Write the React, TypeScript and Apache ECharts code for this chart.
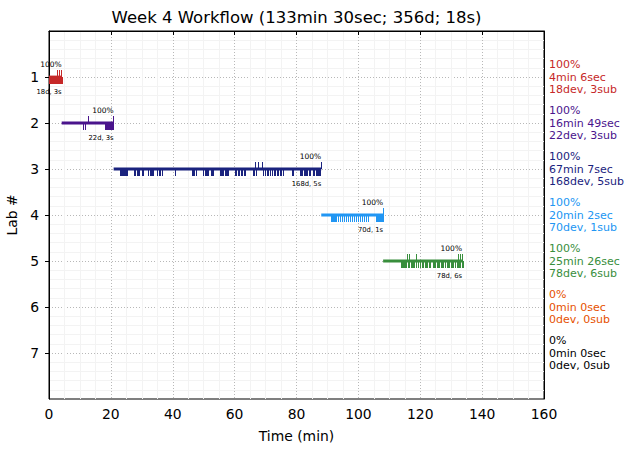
import React, { useEffect, useRef } from "react";
import * as echarts from "echarts";

const labNumbers = [1, 2, 3, 4, 5, 6, 7];
const labColors = ["#c62828", "#4a148c", "#1a237e", "#2196f3", "#388e3c", "#e65100", "#000000"];
const labStart = [0, 4.1, 20.9, 88.0, 108.0, null, null];
const labEnd = [4.1, 20.9, 88.0, 108.0, 133.5, null, null];
const labPercent = ["100%", "100%", "100%", "100%", "100%", "0%", "0%"];
const labDuration = ["4min 6sec", "16min 49sec", "67min 7sec", "20min 2sec", "25min 26sec", "0min 0sec", "0min 0sec"];
const labDevCount = [18, 22, 168, 70, 78, 0, 0];
const labSubCount = [3, 3, 5, 1, 6, 0, 0];

const lab1Devs = [0.1, 0.3, 0.6, 0.9, 1.1, 1.4, 1.6, 1.9, 2.1, 2.4, 2.6, 2.9, 3.1, 3.3, 3.5, 3.7, 3.9, 4.1];
const lab2Devs = [11.0, 11.5, 18.2, 18.4, 18.5, 18.7, 18.9, 19.0, 19.2, 19.3, 19.5, 19.6, 19.8, 19.9, 20.0, 20.1, 20.2, 20.3, 20.4, 20.5, 20.6, 20.7];
const lab3Devs = [
  23.0, 23.3, 23.6, 23.9, 24.2, 24.5, 24.8, 25.1,
  27.5, 27.9, 28.3, 28.7, 29.2,
  30.0, 30.5,
  32.1, 32.5, 32.9, 33.3, 33.7,
  35.0, 35.4, 35.9, 36.4,
  40.7,
  46.2, 46.6, 47.0, 47.5,
  49.9, 50.3, 50.7, 51.1, 51.5,
  52.3, 52.7, 53.1,
  55.3, 55.6, 56.0, 56.4, 56.8, 57.2, 57.5, 57.8,
  60.1, 60.6, 61.0, 61.5, 62.0, 62.4, 62.9, 63.3,
  65.8, 66.1, 66.4, 66.8,
  69.3, 69.8, 70.4,
  70.9, 71.4, 72.0, 72.6, 73.1, 73.6, 74.1, 74.6, 75.0, 75.5,
  78.4, 79.0,
  81.1, 81.5, 81.9, 82.3, 82.7, 83.1, 83.5, 84.0, 84.4,
  85.4, 85.8, 86.2, 86.6, 87.0, 87.3, 87.6,
];
const lab4Devs = [
  91.0, 91.3, 91.6, 91.9, 92.2, 92.5, 92.8,
  93.4, 94.0, 94.7, 95.3, 96.0, 96.6, 97.3, 97.9, 98.6, 99.2, 99.9, 100.5, 101.2, 101.8, 102.5, 103.1,
  105.7, 106.0, 106.3, 106.6, 106.9, 107.2, 107.5, 107.8, 108.0,
];
const lab5Devs = [
  113.8, 114.1, 114.5, 114.8, 115.2, 115.5, 115.9, 116.2, 116.5, 116.9, 117.2,
  117.7, 118.1, 118.5,
  119.4, 119.9,
  120.6, 121.0, 121.4, 121.8, 122.2, 122.7, 123.1,
  124.1, 124.5, 124.9, 125.3,
  125.8, 126.2, 126.6, 127.0, 127.5, 128.0,
  128.5, 128.9, 129.3, 129.8, 130.2, 130.7, 131.2,
  131.8, 132.2, 132.6, 133.0, 133.4, 133.9,
];
const labDevTimes = [lab1Devs, lab2Devs, lab3Devs, lab4Devs, lab5Devs, [], []];

const labSubTimes = [
  [2.5, 3.2, 3.9],
  [12.7, 20.6, 20.8],
  [66.6, 67.6, 68.7, 87.8, 88.0],
  [108.0],
  [115.8, 116.4, 118.6, 132.1, 132.8, 133.6],
  [],
  [],
];

const xTicks = [0, 20, 40, 60, 80, 100, 120, 140, 160];

const FONT = "DejaVu Sans";

export default function App() {
  const ref = useRef<HTMLDivElement>(null);

  useEffect(() => {
    if (!ref.current) return;
    const chart = echarts.init(ref.current, undefined, { renderer: "svg" });

    const segData: any[] = [];
    labNumbers.forEach((lab, i) => {
      if (labStart[i] !== null && labEnd[i] !== null) {
        segData.push([labStart[i], lab, labEnd[i], labDevCount[i], labSubCount[i], i]);
      }
    });
    const tickData: any[] = [];
    labNumbers.forEach((lab, i) => {
      labDevTimes[i].forEach((t) => tickData.push([t, lab, 1, i]));
      labSubTimes[i].forEach((t) => tickData.push([t, lab, -1, i]));
    });

    const rich: any = {};
    labColors.forEach((c, i) => {
      rich["c" + i] = { color: c, fontSize: 11, lineHeight: 12.5, fontFamily: FONT };
    });

    const splitMajor = { show: true, lineStyle: { color: "#b8b8b8", type: [1, 2] as any, width: 1 } };
    const splitMinor = { show: true, lineStyle: { color: "#f3f3f3", width: 1 } };

    chart.setOption({
      animation: false,
      backgroundColor: "#ffffff",
      textStyle: { fontFamily: FONT },
      grid: {
        left: 49,
        right: 90,
        top: 31,
        bottom: 54,
        show: true,
        borderColor: "#000",
        borderWidth: 1,
        backgroundColor: "transparent",
        outerBoundsMode: "none",
        containLabel: false,
      },
      graphic: [
        {
          type: "text",
          x: 296.5,
          y: 17,
          style: {
            text: "Week 4 Workflow (133min 30sec; 356d; 18s)",
            fontSize: 16.5,
            fontFamily: FONT,
            fill: "#000",
            align: "center",
            verticalAlign: "middle",
          },
        },
      ],
      xAxis: {
        type: "value",
        min: 0,
        max: 160,
        interval: 20,
        name: "Time (min)",
        nameLocation: "middle",
        nameGap: 30,
        nameTextStyle: { fontSize: 13.9, color: "#000", fontFamily: FONT },
        axisLine: { show: true, lineStyle: { color: "#000", width: 1 } },
        axisTick: { show: true, inside: false, length: 4, lineStyle: { color: "#000" } },
        axisLabel: { fontSize: 13.9, color: "#000", margin: 8, fontFamily: FONT, customValues: xTicks },
        splitLine: splitMajor,
        minorTick: { show: false, splitNumber: 4 },
        minorSplitLine: splitMinor,
      },
      yAxis: [
        {
          type: "value",
          inverse: true,
          min: 0,
          max: 8,
          interval: 1,
          name: "Lab #",
          nameLocation: "middle",
          nameGap: 27,
          nameRotate: 90,
          nameTextStyle: { fontSize: 13.9, color: "#000", fontFamily: FONT },
          axisLine: { show: true, lineStyle: { color: "#000", width: 1 } },
          axisTick: { show: true, length: 4, lineStyle: { color: "#000" }, customValues: labNumbers },
          axisLabel: {
            fontSize: 13.9,
            color: "#000",
            margin: 10,
            fontFamily: FONT,
            customValues: labNumbers,
            formatter: (v: number) => (v >= 1 && v <= 7 ? String(v) : ""),
          },
          splitLine: splitMajor,
          minorTick: { show: false, splitNumber: 5 },
          minorSplitLine: splitMinor,
        },
        {
          type: "value",
          position: "right",
          inverse: true,
          min: 0,
          max: 8,
          interval: 1,
          axisLine: { show: true, lineStyle: { color: "#000", width: 1 } },
          axisTick: { show: false },
          splitLine: { show: false },
          axisLabel: {
            margin: 5,
            align: "left",
            customValues: labNumbers,
            rich,
            formatter: (v: number) => {
              const i = Math.round(v) - 1;
              if (i < 0 || i > 6) return "";
              return (
                `{c${i}|${labPercent[i]}}\n` +
                `{c${i}|${labDuration[i]}}\n` +
                `{c${i}|${labDevCount[i]}dev, ${labSubCount[i]}sub}`
              );
            },
          },
        },
      ],
      series: [
        {
          type: "custom",
          xAxisIndex: 0,
          yAxisIndex: 0,
          data: tickData,
          encode: { x: 0, y: 1 },
          renderItem: (params: any, api: any) => {
            const t = api.value(0);
            const lab = api.value(1);
            const dir = api.value(2);
            const i = api.value(3);
            const p = api.coord([t, lab]);
            const x = Math.round(p[0]) + 0.5;
            return {
              type: "line",
              shape: { x1: x, y1: p[1], x2: x, y2: p[1] + dir * 7 },
              style: { stroke: labColors[i], lineWidth: 1 },
            };
          },
        },
        {
          type: "custom",
          xAxisIndex: 0,
          yAxisIndex: 0,
          data: segData,
          encode: { x: [0, 2], y: 1 },
          renderItem: (params: any, api: any) => {
            const s = api.value(0);
            const lab = api.value(1);
            const e = api.value(2);
            const d = api.value(3);
            const sb = api.value(4);
            const i = api.value(5);
            const p1 = api.coord([s, lab]);
            const p2 = api.coord([e, lab]);
            return {
              type: "group",
              children: [
                {
                  type: "line",
                  shape: { x1: p1[0], y1: p1[1], x2: p2[0], y2: p2[1] },
                  style: { stroke: labColors[i], lineWidth: 2.8 },
                },
                {
                  type: "text",
                  style: {
                    text: labPercent[i],
                    x: p2[0],
                    y: p2[1] - 12.5,
                    fill: "#000",
                    fontSize: 7.5,
                    fontFamily: FONT,
                    align: "right",
                    verticalAlign: "middle",
                  },
                },
                {
                  type: "text",
                  style: {
                    text: `${d}d, ${sb}s`,
                    x: p2[0],
                    y: p2[1] + 15,
                    fill: "#000",
                    fontSize: 6.8,
                    fontFamily: FONT,
                    align: "right",
                    verticalAlign: "middle",
                  },
                },
              ],
            };
          },
        },
      ],
    });

    return () => chart.dispose();
  }, []);

  return (
    <div
      ref={ref}
      style={{ position: "fixed", left: 0, top: 0, width: 634, height: 453, background: "#fff" }}
    />
  );
}
